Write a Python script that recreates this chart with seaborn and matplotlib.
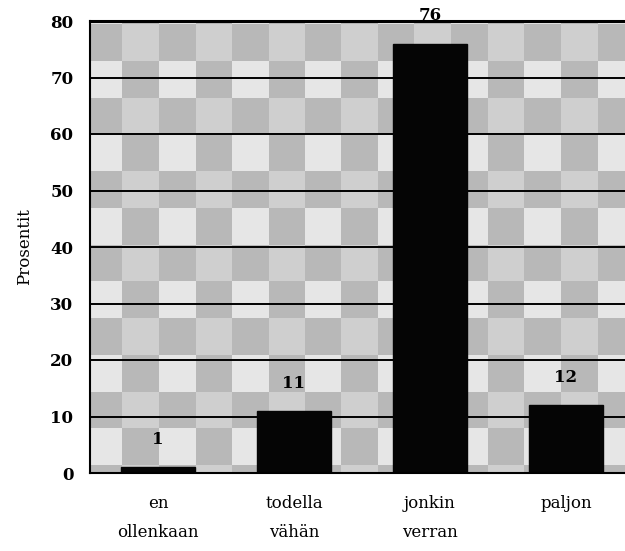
import numpy as np
import pandas as pd
import matplotlib
matplotlib.use("Agg")
import matplotlib.pyplot as plt
import seaborn as sns

# --- data ---
categories = ["en\nollenkaan", "todella\nvähän", "jonkin\nverran", "paljon"]
values = [1, 11, 76, 12]
y_ticks = [0, 10, 20, 30, 40, 50, 60, 70, 80]
y_label = "Prosentit"

df = pd.DataFrame({"cat": categories, "val": values})

sns.set_style("white")
plt.rcParams["font.family"] = ["DejaVu Serif"]
plt.rcParams["text.color"] = "black"
plt.rcParams["axes.labelcolor"] = "black"
plt.rcParams["xtick.color"] = "black"
plt.rcParams["ytick.color"] = "black"

fig = plt.figure(figsize=(6.25, 5.51), dpi=100)
ax = fig.add_axes([90 / 625, 1 - 473 / 551, 1 - 90 / 625, (473 - 21) / 551])

x0, x1 = -0.5, -0.5 + 535 / 136

# decorative plaid background (scan texture)
nx, ny = 800, 800
xs = np.linspace(x0, x1, nx)
ys = np.linspace(0, 80, ny)
colpar = (np.floor((xs + 0.265) / 0.269).astype(int) % 2)  # 1 -> B column
rowpar = (np.floor((ys - 1.4) / 6.5).astype(int) % 2 == 0)  # True -> light band
C, R = np.meshgrid(colpar, rowpar)
img = np.where(R,
               np.where(C == 1, 0.90, 0.72),
               np.where(C == 1, 0.72, 0.81))
ax.imshow(img, extent=[x0, x1, 0, 80], origin="lower", cmap="gray",
          vmin=0, vmax=1, aspect="auto", zorder=0, interpolation="nearest")

sns.barplot(data=df, x="cat", y="val", color="#050505", width=0.54,
            saturation=1, ax=ax, zorder=3, edgecolor="#050505")

ax.set_xlim(x0, x1)
ax.set_ylim(0, 80)
ax.set_yticks(y_ticks)
for t in y_ticks:
    ax.axhline(t, color="black", lw=1.4, zorder=2)

for i, v in enumerate(values):
    ax.annotate(str(v), (i, v), xytext=(0, 20), textcoords="offset points",
                ha="center", va="center", fontsize=12, fontweight="bold",
                color="black", annotation_clip=False, zorder=5)

ax.set_xlabel("")
ax.set_ylabel(y_label, fontsize=12, labelpad=12, color="black")
ax.tick_params(axis="y", labelsize=12, length=4, width=0.8, color="#444444",
               labelcolor="black", pad=8)
for lab in ax.get_yticklabels():
    lab.set_fontweight("bold")
ax.tick_params(axis="x", which="major", length=0, labelsize=12, pad=16,
               labelcolor="black")
ax.set_xticks([0.5, 1.5, 2.5], minor=True)
ax.tick_params(axis="x", which="minor", length=6, width=0.8, color="#555555", direction="out")
for lab in ax.get_xticklabels():
    lab.set_linespacing(1.9)

ax.spines["right"].set_visible(False)
ax.spines["top"].set_linewidth(2.2)
ax.spines["left"].set_linewidth(1.5)
ax.spines["bottom"].set_linewidth(1.5)
for s in ax.spines.values():
    s.set_color("black")
    s.set_zorder(4)

fig.savefig("out.png", dpi=100)
